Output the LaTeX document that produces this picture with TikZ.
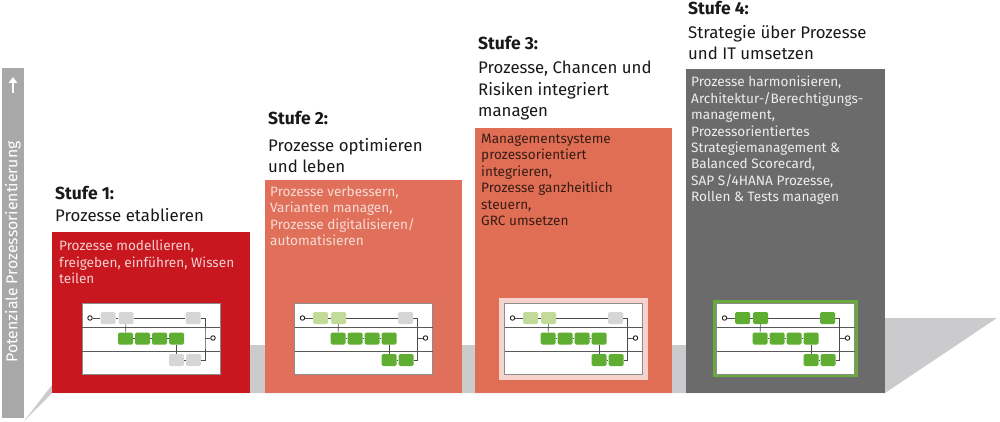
\documentclass[tikz,border=0pt]{standalone}
\usepackage{fontspec}
\setmainfont{Fira Sans}
\usetikzlibrary{arrows.meta}

\definecolor{stufeeins}{HTML}{C8171E}
\definecolor{stufezwei}{HTML}{E0705A}
\definecolor{stufedrei}{HTML}{E06E55}
\definecolor{stufevier}{HTML}{6B6B6B}
\definecolor{prgruen}{HTML}{5FAE32}
\definecolor{rahmengruen}{HTML}{6AAA3A}
\definecolor{hellgruen}{HTML}{C3DB98}
\definecolor{prgrau}{HTML}{D6D6D6}
\definecolor{achsgrau}{HTML}{A8A8A8}
\definecolor{schatten}{HTML}{CBCBCD}

\tikzset{
  stufe/.style={anchor=west, inner sep=0, text=black!90,
    font=\fontsize{17.5}{20}\selectfont\bfseries},
  titel/.style={anchor=north west, inner sep=0, align=left, text=black!90,
    font=\fontsize{16.8}{21.5}\selectfont},
  inhalt/.style={anchor=north west, inner sep=0, align=left,
    font=\fontsize{13.6}{16.4}\selectfont},
  aktivitaet/.style={rounded corners=1.5pt, minimum width=15, minimum height=12, inner sep=0},
  ereignis/.style={circle, draw=black!85, line width=0.9, fill=white, minimum size=4.5, inner sep=0},
  fluss/.style={draw=black!70, line width=0.6},
  bahn/.style={draw=black!65, line width=0.9},
}

% #1 prefix, #2 x, #3 first two top boxes, #4 third top box, #5 bottom boxes
\newcommand{\prozessbild}[5]{%
\begin{scope}[shift={(#2,303)}]
\draw[black!45, fill=white, line width=0.6] (0,0) rectangle (138,71);
\draw[bahn] (0,24) -- (138,24);
\draw[bahn] (0,48) -- (138,48);

\node[ereignis] (#1start) at (8,15) {};
\node[aktivitaet, fill=#3] (#1ta) at (26,15) {};
\node[aktivitaet, fill=#3] (#1tb) at (44,15) {};
\node[aktivitaet, fill=#4] (#1tc) at (111,15) {};

\node[aktivitaet, fill=prgruen] (#1ma) at (43.5,35.5) {};
\node[aktivitaet, fill=prgruen] (#1mb) at (60.5,35.5) {};
\node[aktivitaet, fill=prgruen] (#1mc) at (77.5,35.5) {};
\node[aktivitaet, fill=prgruen] (#1md) at (94.5,35.5) {};

\node[aktivitaet, fill=#5] (#1ba) at (94.5,57) {};
\node[aktivitaet, fill=#5] (#1bb) at (111.5,57) {};

\node[ereignis] (#1ende) at (131,35) {};
\coordinate (#1knoten) at (123,35);

\draw[fluss] (#1start) -- (#1ta) -- (#1tb) -- (#1tc);
\draw[fluss] (#1tc.east) -| (#1knoten) |- (#1bb.east);
\draw[fluss] (#1knoten) -- (#1ende);
\draw[fluss] (#1tb) -- (#1ma);
\draw[fluss] (#1ma) -- (#1mb) -- (#1mc) -- (#1md);
\draw[fluss] (#1md) -- (#1ba);
\draw[fluss] (#1ba) -- (#1bb);
\end{scope}}

\begin{document}
\begin{tikzpicture}[x=1pt,y=-1pt]
\useasboundingbox (0,0) rectangle (1000,422);

% floor shadow
\fill[schatten] (24,421) -- (52,393) -- (885,393) -- (997,318) -- (885,318)
  -- (885,345) -- (52,345) -- (52,385) -- cycle;

% axis
\fill[achsgrau] (2,68) rectangle (24,418);
\draw[white, line width=2.4, -{Triangle[width=8.5,length=6]}] (13,93) -- (13,77);
\node[rotate=90, text=white, inner sep=0, font=\fontsize{15.8}{18}\selectfont] (achse) at (13,252) {Potenziale Prozessorientierung};

% Stufe 1
\fill[stufeeins] (52,232) rectangle (250,393);
\node[stufe] (stufe1) at (55,193) {Stufe 1:};
\node[titel] (titel1) at (55,208) {Prozesse etablieren};
\node[inhalt, text=white!80!stufeeins] (text1) at (59,240) {Prozesse modellieren,\\freigeben, einführen, Wissen\\teilen};
\prozessbild{a}{82}{prgrau}{prgrau}{prgrau}

% Stufe 2
\fill[stufezwei] (265,180) rectangle (462,393);
\node[stufe] (stufe2) at (268,118) {Stufe 2:};
\node[titel] (titel2) at (268,138) {Prozesse optimieren\\und leben};
\node[inhalt, text=white!75!stufezwei] (text2) at (270,186) {Prozesse verbessern,\\Varianten managen,\\Prozesse digitalisieren/\\automatisieren};
\prozessbild{b}{294.5}{hellgruen}{prgrau}{prgruen}

% Stufe 3
\fill[stufedrei] (475,128) rectangle (672,393);
\node[stufe] (stufe3) at (478,43) {Stufe 3:};
\node[titel] (titel3) at (478,61) {Prozesse, Chancen und\\Risiken integriert\\managen};
\node[inhalt, text=black!75!stufedrei] (text3) at (481,134) {Managementsysteme\\prozessorientiert\\integrieren,\\Prozesse ganzheitlich\\steuern,\\GRC umsetzen};
\draw[white!70!stufedrei, line width=5] (501.5,300) rectangle (645.5,377);
\prozessbild{c}{504.5}{hellgruen}{prgrau}{prgruen}

% Stufe 4
\fill[stufevier] (686,69) rectangle (885,393);
\node[stufe] (stufe4) at (688,8) {Stufe 4:};
\node[titel] (titel4) at (688,25) {Strategie über Prozesse\\und IT umsetzen};
\node[inhalt, text=white!88!stufevier] (text4) at (691,76) {Prozesse harmonisieren,\\Architektur-/Berechtigungs-\\management,\\Prozessorientiertes\\Strategiemanagement \&\\Balanced Scorecard,\\SAP S/4HANA Prozesse,\\Rollen \& Tests managen};
\draw[rahmengruen, line width=3.5] (715,301.5) rectangle (856,375.5);
\prozessbild{d}{716.5}{prgruen}{prgruen}{prgruen}

\end{tikzpicture}
\end{document}
